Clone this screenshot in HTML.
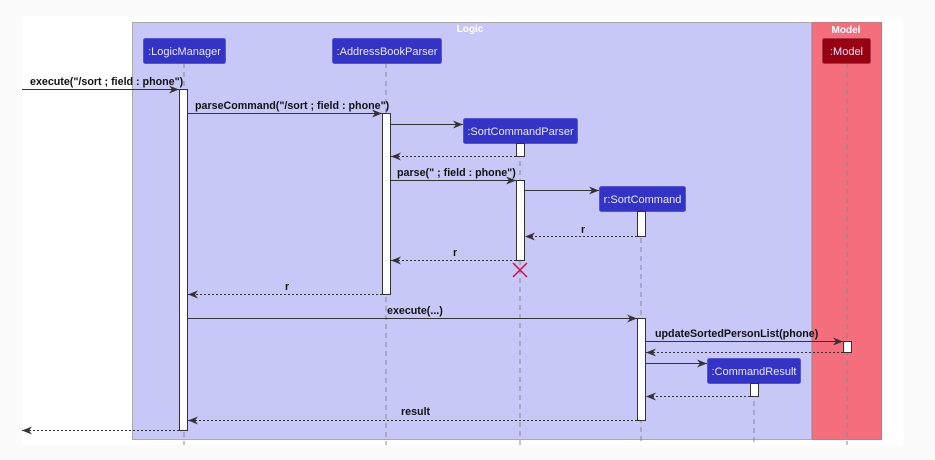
<!DOCTYPE html>
<html><head><meta charset="utf-8"><style>
html,body{margin:0;padding:0;background:#fbfbfb;}
svg{display:block;font-family:"Liberation Sans",sans-serif;}
.b{font-weight:bold;font-size:10.7px;fill:#111;}
.n{font-size:11px;fill:#e8e8ff;}
.ll{stroke:#888;stroke-width:1;stroke-dasharray:5,4;}
.act{fill:#fff;stroke:#333;stroke-width:1;}
.m{stroke:#333;stroke-width:1;fill:none;}
.r{stroke:#333;stroke-width:1;stroke-dasharray:2,2;fill:none;}
.box{fill:#3333c8;stroke:#5555cc;stroke-width:1;}
</style></head><body>
<svg width="935" height="460" viewBox="0 0 935 460">
<defs>
<marker id="a" markerWidth="10" markerHeight="8" refX="10" refY="4" orient="auto" markerUnits="userSpaceOnUse">
<path d="M0,0 L10,4 L0,8 L3,4 Z" fill="#333"/></marker>
</defs>
<rect x="22" y="17" width="881" height="428" fill="#fff"/>
<rect x="132.5" y="22.5" width="679" height="417" fill="#c8c8f8" stroke="#aaa"/>
<rect x="812.5" y="22.5" width="69" height="417" fill="#f46e7e" stroke="#cc7777"/>
<text x="470" y="32" font-size="10" font-weight="bold" fill="#fff" text-anchor="middle">Logic</text>
<text x="846" y="33" font-size="10" font-weight="bold" fill="#fff" text-anchor="middle">Model</text>

<line class="ll" x1="184" y1="63" x2="184" y2="445"/>
<line class="ll" x1="386" y1="63" x2="386" y2="445"/>
<line class="ll" x1="520" y1="143" x2="520" y2="445"/>
<line class="ll" x1="641" y1="211" x2="641" y2="445"/>
<line class="ll" x1="754" y1="383" x2="754" y2="445"/>
<line class="ll" x1="847" y1="63" x2="847" y2="445"/>

<rect class="box" x="143.5" y="38.5" width="82" height="25" rx="2"/>
<text class="n" x="184.5" y="55" text-anchor="middle">:LogicManager</text>
<rect class="box" x="332.5" y="38.5" width="109" height="25" rx="2"/>
<text class="n" x="387" y="55" text-anchor="middle">:AddressBookParser</text>
<rect class="box" x="463.5" y="118.5" width="114" height="25" rx="2"/>
<text class="n" x="520.5" y="135" text-anchor="middle">:SortCommandParser</text>
<rect class="box" x="599.5" y="186.5" width="86" height="25" rx="2"/>
<text class="n" x="642.5" y="203" text-anchor="middle">r:SortCommand</text>
<rect class="box" x="707.5" y="358.5" width="93" height="25" rx="2"/>
<text class="n" x="754" y="375" text-anchor="middle">:CommandResult</text>
<rect x="822.5" y="38.5" width="48" height="25" rx="2" fill="#990011" stroke="#aa3344"/>
<text class="n" x="846.5" y="55" text-anchor="middle" fill="#ffdddd">:Model</text>

<rect class="act" x="179.5" y="89.5" width="8" height="341"/>
<rect class="act" x="382.5" y="113.5" width="8" height="181"/>
<rect class="act" x="516.5" y="143.5" width="8" height="13"/>
<rect class="act" x="516.5" y="180.5" width="8" height="80"/>
<rect class="act" x="637.5" y="211.5" width="8" height="25"/>
<rect class="act" x="637.5" y="318.5" width="8" height="102"/>
<rect class="act" x="843.5" y="341.5" width="8" height="11"/>
<rect class="act" x="750.5" y="383.5" width="8" height="13"/>

<line class="m" x1="22" y1="89.5" x2="179" y2="89.5" marker-end="url(#a)"/>
<text class="b" x="30" y="85">execute("/sort ; field : phone")</text>
<line class="m" x1="188" y1="113.5" x2="382" y2="113.5" marker-end="url(#a)"/>
<text class="b" x="195" y="109">parseCommand("/sort ; field : phone")</text>
<line class="m" x1="391" y1="124.5" x2="463" y2="124.5" marker-end="url(#a)"/>
<line class="r" x1="516" y1="156.5" x2="391" y2="156.5" marker-end="url(#a)"/>
<line class="m" x1="391" y1="180.5" x2="516" y2="180.5" marker-end="url(#a)"/>
<text class="b" x="397" y="176">parse(" ; field : phone")</text>
<line class="m" x1="525" y1="190.5" x2="599" y2="190.5" marker-end="url(#a)"/>
<line class="r" x1="637" y1="236.5" x2="525" y2="236.5" marker-end="url(#a)"/>
<text class="b" x="581" y="233">r</text>
<line class="r" x1="516" y1="260.5" x2="391" y2="260.5" marker-end="url(#a)"/>
<text class="b" x="453" y="256">r</text>
<path d="M513,263 L527,277 M527,263 L513,277" stroke="#cc1144" stroke-width="1.5"/>
<line class="r" x1="382" y1="294.5" x2="188" y2="294.5" marker-end="url(#a)"/>
<text class="b" x="285" y="290">r</text>
<line class="m" x1="188" y1="318.5" x2="637" y2="318.5" marker-end="url(#a)"/>
<text class="b" x="387" y="314">execute(...)</text>
<line class="m" x1="646" y1="341.5" x2="843" y2="341.5" marker-end="url(#a)"/>
<text class="b" x="655" y="337">updateSortedPersonList(phone)</text>
<line class="r" x1="843" y1="352.5" x2="646" y2="352.5" marker-end="url(#a)"/>
<line class="m" x1="646" y1="363.5" x2="707" y2="363.5" marker-end="url(#a)"/>
<line class="r" x1="750" y1="396.5" x2="646" y2="396.5" marker-end="url(#a)"/>
<line class="r" x1="637" y1="420.5" x2="188" y2="420.5" marker-end="url(#a)"/>
<text class="b" x="401" y="415">result</text>
<line class="r" x1="179" y1="430.5" x2="22" y2="430.5" marker-end="url(#a)"/>
</svg>
</body></html>
